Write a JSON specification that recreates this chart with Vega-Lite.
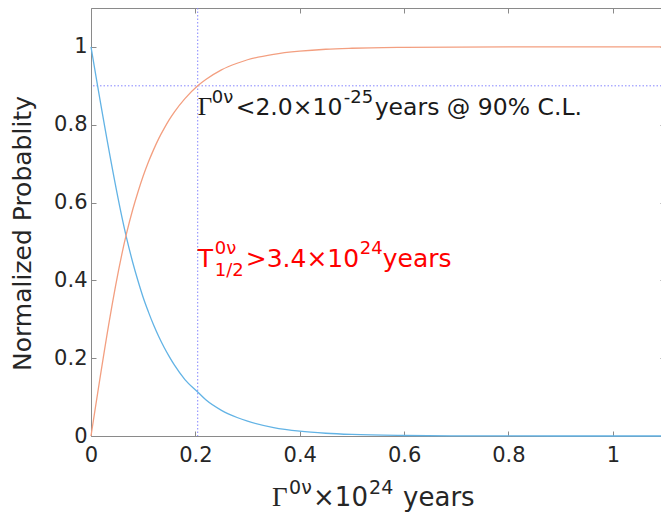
{
  "$schema": "https://vega.github.io/schema/vega-lite/v6.json",
  "width": 574,
  "height": 428,
  "autosize": {"type": "none"},
  "padding": {"left": 91, "top": 8, "right": 0, "bottom": 80},
  "background": "white",
  "config": {
    "view": {"stroke": null},
    "font": "DejaVu Sans",
    "axis": {
      "domainColor": "#8a8a8a",
      "tickColor": "#8a8a8a",
      "labelColor": "#262626",
      "labelFont": "DejaVu Sans",
      "labelFontSize": 21,
      "labelFlush": false,
      "titleFont": "DejaVu Sans",
      "titleFontSize": 25,
      "titleFontWeight": "normal",
      "titleColor": "#262626",
      "grid": false,
      "tickSize": -5,
      "domainWidth": 1
    }
  },
  "datasets": {
    "curves": [
      {"x": 0, "p": 1, "s": "pdf"},
      {"x": 0.068, "p": 0.51, "s": "pdf"},
      {"x": 0.08, "p": 0.446, "s": "pdf"},
      {"x": 0.09, "p": 0.399, "s": "pdf"},
      {"x": 0.1, "p": 0.356, "s": "pdf"},
      {"x": 0.11, "p": 0.319, "s": "pdf"},
      {"x": 0.12, "p": 0.285, "s": "pdf"},
      {"x": 0.13, "p": 0.255, "s": "pdf"},
      {"x": 0.14, "p": 0.228, "s": "pdf"},
      {"x": 0.15, "p": 0.204, "s": "pdf"},
      {"x": 0.16, "p": 0.182, "s": "pdf"},
      {"x": 0.18, "p": 0.145, "s": "pdf"},
      {"x": 0.2045, "p": 0.113, "s": "pdf"},
      {"x": 0.22, "p": 0.093, "s": "pdf"},
      {"x": 0.25, "p": 0.066, "s": "pdf"},
      {"x": 0.28, "p": 0.0475, "s": "pdf"},
      {"x": 0.3, "p": 0.038, "s": "pdf"},
      {"x": 0.35, "p": 0.0217, "s": "pdf"},
      {"x": 0.4, "p": 0.0124, "s": "pdf"},
      {"x": 0.45, "p": 0.0071, "s": "pdf"},
      {"x": 0.5, "p": 0.004, "s": "pdf"},
      {"x": 0.6, "p": 0.0013, "s": "pdf"},
      {"x": 0.7, "p": 0.0004, "s": "pdf"},
      {"x": 0.8, "p": 0.00014, "s": "pdf"},
      {"x": 0.9, "p": 0.00005, "s": "pdf"},
      {"x": 1.0, "p": 0.00002, "s": "pdf"},
      {"x": 1.1, "p": 0.00001, "s": "pdf"},
      {"x": 0, "p": 0, "s": "cdf"},
      {"x": 0.068, "p": 0.52, "s": "cdf"},
      {"x": 0.08, "p": 0.582, "s": "cdf"},
      {"x": 0.09, "p": 0.627, "s": "cdf"},
      {"x": 0.1, "p": 0.668, "s": "cdf"},
      {"x": 0.11, "p": 0.704, "s": "cdf"},
      {"x": 0.12, "p": 0.736, "s": "cdf"},
      {"x": 0.13, "p": 0.765, "s": "cdf"},
      {"x": 0.14, "p": 0.79, "s": "cdf"},
      {"x": 0.15, "p": 0.813, "s": "cdf"},
      {"x": 0.16, "p": 0.833, "s": "cdf"},
      {"x": 0.18, "p": 0.867, "s": "cdf"},
      {"x": 0.2045, "p": 0.9, "s": "cdf"},
      {"x": 0.22, "p": 0.916, "s": "cdf"},
      {"x": 0.25, "p": 0.941, "s": "cdf"},
      {"x": 0.28, "p": 0.958, "s": "cdf"},
      {"x": 0.3, "p": 0.967, "s": "cdf"},
      {"x": 0.35, "p": 0.981, "s": "cdf"},
      {"x": 0.4, "p": 0.989, "s": "cdf"},
      {"x": 0.45, "p": 0.994, "s": "cdf"},
      {"x": 0.5, "p": 0.9966, "s": "cdf"},
      {"x": 0.6, "p": 0.9989, "s": "cdf"},
      {"x": 0.7, "p": 0.9997, "s": "cdf"},
      {"x": 0.8, "p": 0.9999, "s": "cdf"},
      {"x": 0.9, "p": 1, "s": "cdf"},
      {"x": 1.0, "p": 1, "s": "cdf"},
      {"x": 1.1, "p": 1, "s": "cdf"}
    ]
  },
  "layer": [
    {
      "data": {"values": [{"v": 0.2045}]},
      "mark": {"type": "rule", "color": "#8585ff", "strokeWidth": 1, "strokeDash": [1.5, 2]},
      "encoding": {
        "x": {"field": "v", "type": "quantitative", "scale": {"domain": [0, 1.1], "nice": false, "zero": false}, "axis": null}
      }
    },
    {
      "data": {"values": [{"v": 0.9}]},
      "mark": {"type": "rule", "color": "#8585ff", "strokeWidth": 1, "strokeDash": [1.5, 2]},
      "encoding": {
        "y": {"field": "v", "type": "quantitative", "scale": {"domain": [0, 1.1], "nice": false, "zero": false}, "axis": null}
      }
    },
    {
      "data": {"name": "curves"},
      "transform": [{"filter": "datum.s === 'pdf'"}],
      "mark": {"type": "line", "color": "#62B3E5", "strokeWidth": 1.3, "interpolate": "monotone"},
      "encoding": {
        "x": {
          "field": "x", "type": "quantitative",
          "scale": {"domain": [0, 1.1], "nice": false, "zero": false},
          "axis": {"orient": "bottom", "values": [0, 0.2, 0.4, 0.6, 0.8, 1], "format": ".1~f", "title": null, "labelPadding": 13}
        },
        "y": {
          "field": "p", "type": "quantitative",
          "scale": {"domain": [0, 1.1], "nice": false, "zero": false},
          "axis": {"orient": "left", "values": [0, 0.2, 0.4, 0.6, 0.8, 1], "format": ".1~f", "title": "Normalized Probablity", "labelPadding": 9, "titlePadding": 18, "titleY": 225}
        }
      }
    },
    {
      "data": {"name": "curves"},
      "transform": [{"filter": "datum.s === 'cdf'"}],
      "mark": {"type": "line", "color": "#F39F80", "strokeWidth": 1.3, "interpolate": "monotone"},
      "encoding": {
        "x": {
          "field": "x", "type": "quantitative",
          "scale": {"domain": [0, 1.1], "nice": false, "zero": false},
          "axis": {"orient": "top", "values": [0, 0.2, 0.4, 0.6, 0.8, 1], "labels": false, "title": null}
        },
        "y": {
          "field": "p", "type": "quantitative",
          "scale": {"domain": [0, 1.1], "nice": false, "zero": false},
          "axis": {"orient": "right", "values": [0, 0.2, 0.4, 0.6, 0.8, 1], "labels": false, "title": null}
        }
      }
    },
    {
      "data": {"values": [{"x": 0.2045, "y": 0.826, "t": "Γ"}]},
      "mark": {"type": "text", "align": "left", "baseline": "alphabetic", "font": "Liberation Serif", "fontSize": 25, "color": "#1a1a1a", "dx": 0},
      "encoding": {"x": {"field": "x", "type": "quantitative", "axis": null}, "y": {"field": "y", "type": "quantitative", "axis": null}, "text": {"field": "t"}}
    },
    {
      "data": {"values": [{"x": 0.2045, "y": 0.826, "t": "0ν"}]},
      "mark": {"type": "text", "align": "left", "baseline": "alphabetic", "fontSize": 18, "color": "#1a1a1a", "dx": 14, "dy": -12},
      "encoding": {"x": {"field": "x", "type": "quantitative", "axis": null}, "y": {"field": "y", "type": "quantitative", "axis": null}, "text": {"field": "t"}}
    },
    {
      "data": {"values": [{"x": 0.2045, "y": 0.826, "t": "<2.0×10"}]},
      "mark": {"type": "text", "align": "left", "baseline": "alphabetic", "fontSize": 23.5, "color": "#1a1a1a", "dx": 38},
      "encoding": {"x": {"field": "x", "type": "quantitative", "axis": null}, "y": {"field": "y", "type": "quantitative", "axis": null}, "text": {"field": "t"}}
    },
    {
      "data": {"values": [{"x": 0.2045, "y": 0.826, "t": "-25"}]},
      "mark": {"type": "text", "align": "left", "baseline": "alphabetic", "fontSize": 18, "color": "#1a1a1a", "dx": 146, "dy": -12},
      "encoding": {"x": {"field": "x", "type": "quantitative", "axis": null}, "y": {"field": "y", "type": "quantitative", "axis": null}, "text": {"field": "t"}}
    },
    {
      "data": {"values": [{"x": 0.2045, "y": 0.826, "t": "years @ 90% C.L."}]},
      "mark": {"type": "text", "align": "left", "baseline": "alphabetic", "fontSize": 23.5, "color": "#1a1a1a", "dx": 177},
      "encoding": {"x": {"field": "x", "type": "quantitative", "axis": null}, "y": {"field": "y", "type": "quantitative", "axis": null}, "text": {"field": "t"}}
    },
    {
      "data": {"values": [{"x": 0.2045, "y": 0.4356, "t": "T"}]},
      "mark": {"type": "text", "align": "left", "baseline": "alphabetic", "fontSize": 25, "color": "#ff0000", "dx": 0},
      "encoding": {"x": {"field": "x", "type": "quantitative", "axis": null}, "y": {"field": "y", "type": "quantitative", "axis": null}, "text": {"field": "t"}}
    },
    {
      "data": {"values": [{"x": 0.2045, "y": 0.4356, "t": "0ν"}]},
      "mark": {"type": "text", "align": "left", "baseline": "alphabetic", "fontSize": 18, "color": "#ff0000", "dx": 17, "dy": -13},
      "encoding": {"x": {"field": "x", "type": "quantitative", "axis": null}, "y": {"field": "y", "type": "quantitative", "axis": null}, "text": {"field": "t"}}
    },
    {
      "data": {"values": [{"x": 0.2045, "y": 0.4356, "t": "1/2"}]},
      "mark": {"type": "text", "align": "left", "baseline": "alphabetic", "fontSize": 18, "color": "#ff0000", "dx": 17, "dy": 9},
      "encoding": {"x": {"field": "x", "type": "quantitative", "axis": null}, "y": {"field": "y", "type": "quantitative", "axis": null}, "text": {"field": "t"}}
    },
    {
      "data": {"values": [{"x": 0.2045, "y": 0.4356, "t": ">3.4×10"}]},
      "mark": {"type": "text", "align": "left", "baseline": "alphabetic", "fontSize": 25, "color": "#ff0000", "dx": 48},
      "encoding": {"x": {"field": "x", "type": "quantitative", "axis": null}, "y": {"field": "y", "type": "quantitative", "axis": null}, "text": {"field": "t"}}
    },
    {
      "data": {"values": [{"x": 0.2045, "y": 0.4356, "t": "24"}]},
      "mark": {"type": "text", "align": "left", "baseline": "alphabetic", "fontSize": 18, "color": "#ff0000", "dx": 162, "dy": -13},
      "encoding": {"x": {"field": "x", "type": "quantitative", "axis": null}, "y": {"field": "y", "type": "quantitative", "axis": null}, "text": {"field": "t"}}
    },
    {
      "data": {"values": [{"x": 0.2045, "y": 0.4356, "t": "years"}]},
      "mark": {"type": "text", "align": "left", "baseline": "alphabetic", "fontSize": 25, "color": "#ff0000", "dx": 185},
      "encoding": {"x": {"field": "x", "type": "quantitative", "axis": null}, "y": {"field": "y", "type": "quantitative", "axis": null}, "text": {"field": "t"}}
    },
    {
      "data": {"values": [{"x": 0.347, "y": -0.18, "t": "Γ"}]},
      "mark": {"type": "text", "align": "left", "baseline": "alphabetic", "font": "Liberation Serif", "fontSize": 27, "color": "#262626"},
      "encoding": {"x": {"field": "x", "type": "quantitative", "axis": null}, "y": {"field": "y", "type": "quantitative", "axis": null}, "text": {"field": "t"}}
    },
    {
      "data": {"values": [{"x": 0.347, "y": -0.18, "t": "0ν"}]},
      "mark": {"type": "text", "align": "left", "baseline": "alphabetic", "fontSize": 19, "color": "#262626", "dx": 17, "dy": -12},
      "encoding": {"x": {"field": "x", "type": "quantitative", "axis": null}, "y": {"field": "y", "type": "quantitative", "axis": null}, "text": {"field": "t"}}
    },
    {
      "data": {"values": [{"x": 0.347, "y": -0.18, "t": "×10"}]},
      "mark": {"type": "text", "align": "left", "baseline": "alphabetic", "fontSize": 26, "color": "#262626", "dx": 41},
      "encoding": {"x": {"field": "x", "type": "quantitative", "axis": null}, "y": {"field": "y", "type": "quantitative", "axis": null}, "text": {"field": "t"}}
    },
    {
      "data": {"values": [{"x": 0.347, "y": -0.18, "t": "24"}]},
      "mark": {"type": "text", "align": "left", "baseline": "alphabetic", "fontSize": 19, "color": "#262626", "dx": 97, "dy": -12},
      "encoding": {"x": {"field": "x", "type": "quantitative", "axis": null}, "y": {"field": "y", "type": "quantitative", "axis": null}, "text": {"field": "t"}}
    },
    {
      "data": {"values": [{"x": 0.347, "y": -0.18, "t": "years"}]},
      "mark": {"type": "text", "align": "left", "baseline": "alphabetic", "fontSize": 26, "color": "#262626", "dx": 131},
      "encoding": {"x": {"field": "x", "type": "quantitative", "axis": null}, "y": {"field": "y", "type": "quantitative", "axis": null}, "text": {"field": "t"}}
    }
  ],
  "resolve": {"axis": {"x": "independent", "y": "independent"}}
}
